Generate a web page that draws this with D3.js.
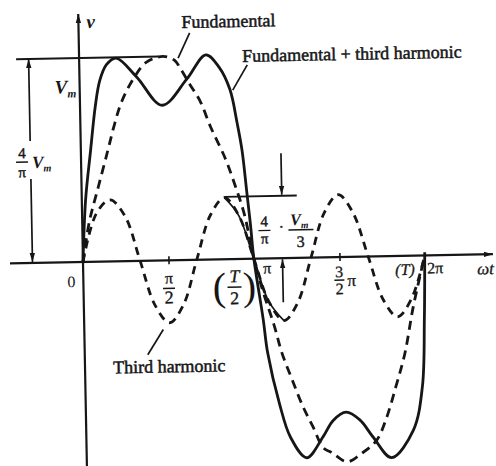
<!DOCTYPE html>
<html><head><meta charset="utf-8">
<script src="https://cdn.jsdelivr.net/npm/d3@7"></script>
<style>
html,body{margin:0;padding:0;background:#fff;}
svg{display:block;}
text{font-family:"Liberation Serif","Times New Roman",serif;fill:#161616;}
</style></head><body>
<svg id="chart" width="496" height="466"></svg>
<script>
const PI = Math.PI;

// Waveform samples: angle ωt in radians, amplitude in units of V_m
const fundamentalAngle = [0, 0.13, 0.31, 0.50, 0.63, 0.77, 1.01, 1.23, 1.54, 1.75, 1.87, 2.02, 2.21, 2.39, 2.65, 2.83, 2.98, 3.14,
  3.30, 3.49, 3.62, 3.80, 3.99, 4.17, 4.35, 4.50, 4.78, 5.05, 5.33, 5.51, 5.70, 5.88, 6.05, 6.28];
const fundamentalValue = [0, 0.25, 0.47, 0.70, 0.86, 1.00, 1.15, 1.24, 1.275, 1.25, 1.19, 1.10, 0.99, 0.83, 0.63, 0.45, 0.28, 0,
  -0.21, -0.42, -0.59, -0.76, -0.93, -1.06, -1.19, -1.22, -1.28, -1.23, -1.15, -1.02, -0.82, -0.61, -0.32, 0];

const thirdAngle = [0, 0.26, 0.52, 0.79, 1.05, 1.31, 1.57, 1.83, 2.09, 2.36, 2.62, 2.88, 3.14,
  3.40, 3.67, 3.93, 4.19, 4.45, 4.71, 4.97, 5.24, 5.50, 5.76, 6.02, 6.28];
const thirdValue = [0, 0.30, 0.385, 0.28, 0, -0.28, -0.39, -0.28, 0, 0.28, 0.385, 0.27, 0,
  -0.27, -0.39, -0.28, 0, 0.28, 0.39, 0.28, 0, -0.27, -0.38, -0.27, 0];

const compositeAngle = [0, 0.07, 0.18, 0.28, 0.37, 0.50, 0.68, 1.05, 1.51, 1.97, 2.33, 2.57, 2.76, 2.88, 2.96, 3.03, 3.09, 3.14,
  3.29, 3.36, 3.56, 3.75, 4.04, 4.35, 4.54, 4.78, 5.03, 5.27, 5.60, 6.01, 6.19, 6.25, 6.28];
const compositeValue = [0, 0.39, 0.70, 0.97, 1.13, 1.23, 1.27, 1.15, 0.97, 1.13, 1.28, 1.20, 1.06, 0.85, 0.68, 0.43, 0.21, 0,
  -0.38, -0.59, -0.91, -1.12, -1.25, -1.12, -1.02, -0.97, -1.02, -1.13, -1.26, -1.09, -0.82, -0.40, 0.02];

const curveLabels = ["Fundamental", "Fundamental + third harmonic", "Third harmonic"];

const ink = "#161616";
const svg = d3.select("#chart");
const x = d3.scaleLinear().domain([0, 2 * PI]).range([83, 425]);
const y = d3.scaleLinear().domain([-1.5, 1.5]).range([502, 22]);

const defs = svg.append("defs");
defs.append("marker").attr("id", "head")
  .attr("viewBox", "0 0 10 6").attr("refX", 10).attr("refY", 3)
  .attr("markerWidth", 9).attr("markerHeight", 6)
  .attr("markerUnits", "userSpaceOnUse").attr("orient", "auto-start-reverse")
  .append("path").attr("d", "M0,0L10,3L0,6Z").attr("fill", ink);

// the whole figure sits slightly tilted on the page
const g = svg.append("g").attr("transform", `rotate(-1.1 ${x(0)} ${y(0)})`);

const zip = (a, b) => a.map((v, i) => [v, b[i]]);
const fundamental = zip(fundamentalAngle, fundamentalValue);
const third = zip(thirdAngle, thirdValue);
const composite = zip(compositeAngle, compositeValue);

const line = d3.line().x(d => x(d[0])).y(d => y(d[1])).curve(d3.curveCatmullRom.alpha(0.5));

// axes
g.append("line").attr("x1", 10).attr("x2", 493).attr("y1", y(0)).attr("y2", y(0))
  .attr("stroke", ink).attr("stroke-width", 2.2).attr("marker-end", "url(#head)");
g.append("line").attr("x1", x(0)).attr("x2", x(0)).attr("y1", 480).attr("y2", 14)
  .attr("stroke", ink).attr("stroke-width", 2.2).attr("marker-end", "url(#head)");

const xAxis = d3.axisBottom(x).tickValues([PI / 2, 3 * PI / 2]).tickSize(8).tickFormat("");
const ax = g.append("g").attr("transform", `translate(0,${y(0) - 4})`).call(xAxis);
ax.select(".domain").remove();
ax.selectAll(".tick line").attr("stroke", ink).attr("stroke-width", 1.6);

// waveforms
g.append("path").datum(fundamental).attr("d", line).attr("fill", "none")
  .attr("stroke", ink).attr("stroke-width", 2.8).attr("stroke-dasharray", "9 6");
g.append("path").datum(third).attr("d", line).attr("fill", "none")
  .attr("stroke", ink).attr("stroke-width", 2.8).attr("stroke-dasharray", "8 6");
g.append("path").datum(third.filter(d => d[0] >= 2.6 && d[0] <= 3.7)).attr("d", line).attr("fill", "none")
  .attr("stroke", ink).attr("stroke-width", 1.7);
g.append("path").datum(composite).attr("d", line).attr("fill", "none")
  .attr("stroke", ink).attr("stroke-width", 2.8);

// amplitude markers
const fPeak = d3.max(fundamentalValue);
const hPeak = d3.max(thirdValue);
g.append("line").attr("x1", 20).attr("x2", 163).attr("y1", y(fPeak)).attr("y2", y(fPeak))
  .attr("stroke", ink).attr("stroke-width", 2.2);
g.append("line").attr("x1", 32.5).attr("x2", 32.5).attr("y1", 140).attr("y2", y(fPeak))
  .attr("stroke", ink).attr("stroke-width", 1.7).attr("marker-end", "url(#head)");
g.append("line").attr("x1", 32.5).attr("x2", 32.5).attr("y1", 178).attr("y2", y(0) - 1)
  .attr("stroke", ink).attr("stroke-width", 1.7).attr("marker-end", "url(#head)");

g.append("line").attr("x1", x(5 * PI / 6)).attr("x2", 298).attr("y1", y(hPeak)).attr("y2", y(hPeak))
  .attr("stroke", ink).attr("stroke-width", 1.9);
g.append("line").attr("x1", 283).attr("x2", 283).attr("y1", 157).attr("y2", y(hPeak) - 1)
  .attr("stroke", ink).attr("stroke-width", 1.7).attr("marker-end", "url(#head)");
g.append("line").attr("x1", 282.5).attr("x2", 282.5).attr("y1", 306).attr("y2", y(0) + 1)
  .attr("stroke", ink).attr("stroke-width", 1.7).attr("marker-end", "url(#head)");

// leader lines
const leaders = [[194, 35, 182, 60], [251, 68, 236, 93], [146, 356, 162, 331]];
leaders.forEach(l => g.append("line").attr("x1", l[0]).attr("y1", l[1]).attr("x2", l[2]).attr("y2", l[3])
  .attr("stroke", ink).attr("stroke-width", 1.7));

// text helpers
function txt(s, px, py, size, opts = {}) {
  const t = g.append("text").attr("x", px).attr("y", py).attr("font-size", size)
    .attr("text-anchor", opts.anchor || "start")
    .attr("font-style", opts.italic ? "italic" : "normal")
    .attr("font-weight", opts.bold ? "bold" : "normal")
    .attr("stroke", ink).attr("stroke-width", opts.sw == null ? 0.5 : opts.sw)
    .text(s);
  if (opts.family) t.attr("font-family", opts.family);
  return t;
}
function vm(px, py, size) {
  const t = g.append("text").attr("x", px).attr("y", py).attr("font-size", size)
    .attr("font-style", "italic").attr("font-weight", "bold");
  t.append("tspan").text("V");
  t.append("tspan").attr("dy", size * 0.22).attr("font-size", size * 0.6).text("m");
  return t;
}
function bar(x1, x2, yy) {
  g.append("line").attr("x1", x1).attr("x2", x2).attr("y1", yy).attr("y2", yy)
    .attr("stroke", ink).attr("stroke-width", 1.4);
}

// curve names
txt(curveLabels[0], 186, 30, 18);
txt(curveLabels[1], 246, 65, 18);
txt(curveLabels[2], 111, 374, 18);

// axis names
txt("v", 91, 28, 19, { italic: true, bold: true, sw: 0 });
txt("ωt", 477, 282, 17, { italic: true, sw: 0.3 });
txt("0", 67, 287, 16, { family: "Liberation Sans", sw: 0 });

// angle labels
const cx1 = x(PI / 2);
txt("π", cx1, 285, 16, { anchor: "middle", sw: 0.3 });
bar(cx1 - 6, cx1 + 6, 290);
txt("2", cx1, 305, 18, { anchor: "middle", sw: 0.3 });

const cT = x(PI) - 20;
txt("(", cT - 15, 303, 40, { anchor: "middle", sw: 0 });
txt(")", cT + 15, 303, 40, { anchor: "middle", sw: 0 });
txt("T", cT, 285, 18, { anchor: "middle", italic: true, sw: 0.3 });
bar(cT - 7, cT + 7, 290);
txt("2", cT, 307, 18, { anchor: "middle", sw: 0.3 });

txt("π", x(PI) + 9, 277, 16, { sw: 0.3 });

const c3 = x(3 * PI / 2) - 0.5;
txt("3", c3, 282, 16, { anchor: "middle", sw: 0.3 });
bar(c3 - 5, c3 + 5, 285);
txt("2", c3, 299, 16, { anchor: "middle", sw: 0.3 });
txt("π", c3 + 8, 291, 17, { sw: 0.3 });

txt("(T)", x(2 * PI) - 30, 281, 16, { italic: true, sw: 0.3 });
txt("2π", x(2 * PI) + 2, 280, 16, { sw: 0.3 });

// amplitude labels
vm(58, 93, 19);
txt("4", 24, 157, 15, { anchor: "middle", sw: 0.4 });
bar(18, 30, 161);
txt("π", 24, 176, 15, { anchor: "middle", sw: 0.4 });
vm(34, 167, 17);

txt("4", 265, 230, 15, { anchor: "middle", sw: 0.4 });
bar(259, 271, 234);
txt("π", 265, 247, 15, { anchor: "middle", sw: 0.4 });
txt("·", 282, 236, 16, { anchor: "middle", sw: 0.4 });
vm(291, 229, 16);
bar(289, 314, 234);
txt("3", 301, 251, 16, { anchor: "middle", sw: 0.4 });
</script>
</body></html>
